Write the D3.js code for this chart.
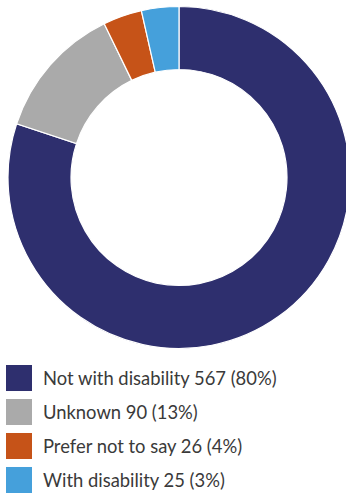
<!DOCTYPE html>
<html><head><meta charset="utf-8">
<script src="https://cdn.jsdelivr.net/npm/d3@7"></script>
<style>body{margin:0;background:#fff;}svg{display:block;}</style>
</head><body>
<svg id="c" width="346" height="496"></svg>
<script>
const categories = ["Not with disability", "Unknown", "Prefer not to say", "With disability"];
const values = [567, 90, 26, 25];
const percents = ["80%", "13%", "4%", "3%"];
const colors = ["#2e2f6e", "#aaaaaa", "#c65318", "#45a0db"];

const svg = d3.select("#c");
const cx = 179, cy = 177.5, R = 171, r = 108;
const pie = d3.pie().sort(null).value(d => d.v);
const data = pie(categories.map((c, i) => ({c, v: values[i], i})));
const arc = d3.arc().innerRadius(r).outerRadius(R);
svg.append("g").attr("transform", `translate(${cx},${cy})`)
  .selectAll("path").data(data).join("path")
  .attr("d", arc).attr("fill", d => colors[d.data.i])
  .attr("stroke", "#fff").attr("stroke-width", 1.2);

const y = d3.scaleBand().domain(categories).range([365, 493]).paddingInner(0.235).paddingOuter(0);
const lg = svg.append("g").selectAll("g").data(categories).join("g")
  .attr("transform", d => `translate(6,${y(d)})`);
lg.append("rect").attr("width", 26).attr("height", y.bandwidth()).attr("fill", (d, i) => colors[i]);
lg.append("text").attr("x", 37).attr("y", 20)
  .attr("font-family", "Lato, sans-serif").attr("font-size", 18.4).attr("fill", "#3a3a3a")
  .text((d, i) => `${d} ${values[i]} (${percents[i]})`);
</script>
</body></html>
